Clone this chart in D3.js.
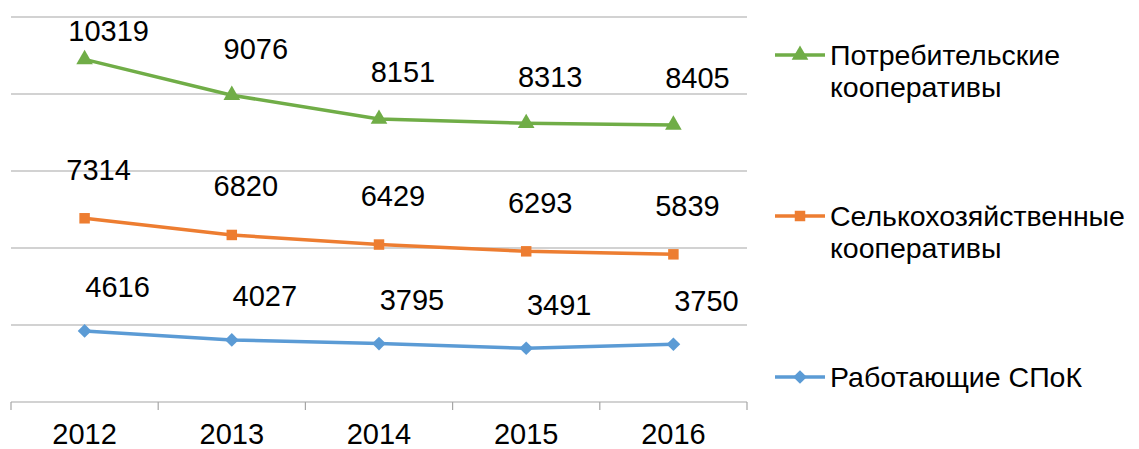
<!DOCTYPE html>
<html>
<head>
<meta charset="utf-8">
<script src="https://cdn.jsdelivr.net/npm/d3@7"></script>
<style>
  body { margin: 0; background: #fff; }
  svg { display: block; font-family: "Liberation Sans", Arial, sans-serif; }
  .grid line { stroke: #a6a6a6; stroke-width: 1.2; }
  .axis path, .axis line { stroke: #a6a6a6; stroke-width: 1.2; }
</style>
</head>
<body>
<div id="chart"></div>
<script>
const years = ["2012", "2013", "2014", "2015", "2016"];

// stacked bottom to top
const seriesKeys = ["spok", "agri", "consumer"];
const seriesNames = {
  spok: "Работающие СПоК",
  agri: "Селькохозяйственные кооперативы",
  consumer: "Потребительские кооперативы",
};
const spok = [4616, 4027, 3795, 3491, 3750];
const agri = [7314, 6820, 6429, 6293, 5839];
const consumer = [10319, 9076, 8151, 8313, 8405];

const yTicks = [0, 5000, 10000, 15000, 20000, 25000];

const colors = { spok: "#5b9bd5", agri: "#ed7d31", consumer: "#70ad47" };
const symbols = { spok: d3.symbolDiamond2, agri: d3.symbolSquare, consumer: d3.symbolTriangle };
// label offset from the point, per series
const labelShift = { spok: [33, -44], agri: [14, -49], consumer: [24, -47] };

const width = 1139;
const height = 449;
const plot = { left: 11, right: 747, top: 17, bottom: 402 };

const rows = years.map((y, i) => ({ year: y, spok: spok[i], agri: agri[i], consumer: consumer[i] }));
const stacked = d3.stack().keys(seriesKeys)(rows);

const x = d3.scaleBand().domain(years).range([plot.left, plot.right]);
const y = d3.scaleLinear().domain([0, 25000]).range([plot.bottom, plot.top]);

const svg = d3.select("#chart").append("svg")
  .attr("width", width)
  .attr("height", height)
  .attr("viewBox", [0, 0, width, height]);

// gridlines
svg.append("g").attr("class", "grid")
  .selectAll("line")
  .data(yTicks.slice(1))
  .join("line")
  .attr("x1", plot.left).attr("x2", plot.right)
  .attr("y1", d => y(d)).attr("y2", d => y(d));

// x axis
const xAxis = svg.append("g").attr("class", "axis")
  .attr("transform", `translate(0,${plot.bottom})`);
xAxis.append("line").attr("x1", plot.left).attr("x2", plot.right);
xAxis.selectAll(".tick")
  .data(d3.range(years.length + 1))
  .join("line")
  .attr("class", "tick")
  .attr("x1", i => plot.left + i * x.step())
  .attr("x2", i => plot.left + i * x.step())
  .attr("y1", 0).attr("y2", 8);
xAxis.selectAll("text")
  .data(years)
  .join("text")
  .attr("x", d => x(d) + x.bandwidth() / 2)
  .attr("y", 42)
  .attr("text-anchor", "middle")
  .attr("font-size", 29)
  .attr("fill", "#000")
  .text(d => d);

const cx = d => x(d.data.year) + x.bandwidth() / 2;
const line = d3.line().x(cx).y(d => y(d[1]));

const series = svg.append("g")
  .selectAll("g")
  .data(stacked)
  .join("g");

series.append("path")
  .attr("fill", "none")
  .attr("stroke", s => colors[s.key])
  .attr("stroke-width", 3.5)
  .attr("stroke-linejoin", "round")
  .attr("d", s => line(s));

series.each(function (s) {
  const g = d3.select(this);
  const sym = d3.symbol().type(symbols[s.key]).size(s.key === "agri" ? 110 : 120);
  g.selectAll("path.marker")
    .data(s)
    .join("path")
    .attr("class", "marker")
    .attr("fill", colors[s.key])
    .attr("transform", d => `translate(${cx(d)},${y(d[1])})`)
    .attr("d", sym);

  const [dx, dy] = labelShift[s.key];
  g.selectAll("text")
    .data(s)
    .join("text")
    .attr("x", d => cx(d) + dx)
    .attr("y", d => Math.max(y(d[1]) + dy, plot.top + 14))
    .attr("dy", "0.36em")
    .attr("text-anchor", "middle")
    .attr("font-size", 29)
    .attr("fill", "#000")
    .text(d => d.data[s.key]);
});

// legend (top to bottom: reverse of stack)
const legend = svg.append("g")
  .selectAll("g")
  .data(seriesKeys.slice().reverse())
  .join("g")
  .attr("transform", (d, i) => `translate(775,${55 + i * 161})`);

legend.append("line")
  .attr("x1", 0).attr("x2", 50)
  .attr("stroke", d => colors[d])
  .attr("stroke-width", 3.5);
legend.append("path")
  .attr("transform", "translate(25,0)")
  .attr("fill", d => colors[d])
  .attr("d", d => d3.symbol().type(symbols[d]).size(d === "agri" ? 110 : 120)());

legend.append("text")
  .attr("x", 55)
  .attr("font-size", 28.5)
  .attr("fill", "#000")
  .each(function (d) {
    const t = d3.select(this);
    const words = seriesNames[d].split(" ");
    const maxW = width - 830 - 2;
    let lines = [];
    let cur = [];
    const probe = t.append("tspan");
    words.forEach(w => {
      const test = cur.concat(w).join(" ");
      probe.text(test);
      if (probe.node().getComputedTextLength() > maxW && cur.length) {
        lines.push(cur.join(" "));
        cur = [w];
      } else {
        cur.push(w);
      }
    });
    lines.push(cur.join(" "));
    probe.remove();
    lines.forEach((l, i) => {
      t.append("tspan")
        .attr("x", 55)
        .attr("y", i * 32)
        .attr("dy", "0.36em")
        .text(l);
    });
  });
</script>
</body>
</html>
